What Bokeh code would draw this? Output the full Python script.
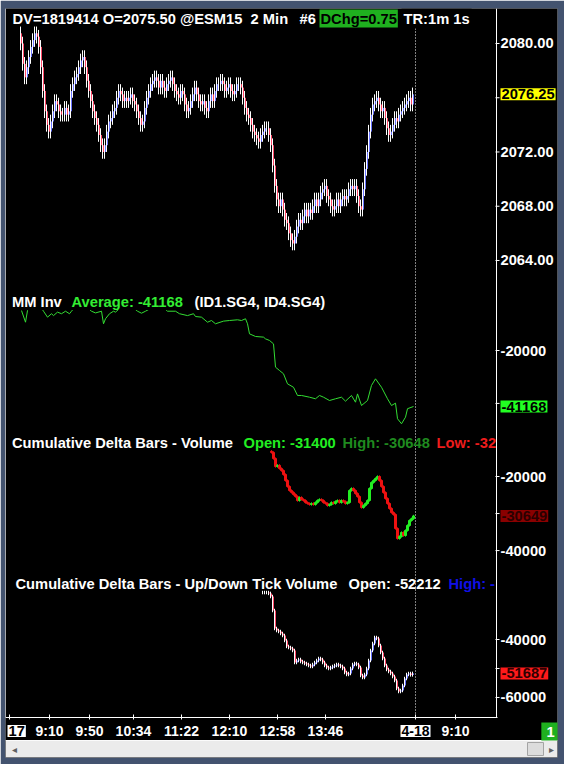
from bokeh.plotting import figure
from bokeh.models import Range1d, Label
from bokeh.embed import file_html
from bokeh.resources import INLINE
from bokeh.core.properties import value

FONT = "Liberation Sans"
FS = "14.7px"
XFS = "14px"

# ---------------- data ----------------
session_open = "8:30"
bars_per_session = 203            # 2-minute bars per day session
time_ticks = ["9:10", "9:50", "10:34", "11:22", "12:10", "12:58", "13:46"]
next_session_ticks = ["9:10"]
date_marks = ["17", "4-18"]

header_main = "DV=1819414 O=2075.50 @ESM15\u00a0 2 Min"
header_count = "#6"
header_dchg = "DChg=0.75"
header_tr = "TR:1m 1s"

price_first_bar = 6
price_first_open = 2080.75
price_close = [
    2080.0, 2078.5, 2077.5, 2078.25, 2079, 2079.75, 2080.25, 2080.75, 2080.5, 2079.75,
    2078.25, 2076.5, 2075, 2074, 2073.5, 2074.25, 2075, 2075.75, 2075.5, 2075,
    2074.75, 2074.75, 2075.25, 2074.75, 2075, 2076.5, 2077, 2077.5, 2077.75, 2078.25,
    2078.75, 2079, 2078.25, 2077.25, 2076.5, 2075.75, 2075, 2074.5, 2074, 2073.25,
    2072.5, 2072, 2072.5, 2073.5, 2074.25, 2074.5, 2075, 2075.25, 2076, 2076.5,
    2076.25, 2075.75, 2076, 2075.75, 2076, 2076.25, 2075.75, 2075.5, 2075, 2074.5,
    2074, 2074.25, 2075.25, 2076, 2076.5, 2077, 2077.25, 2077.5, 2077.25, 2076.75,
    2077.25, 2076.75, 2076.5, 2077, 2077.25, 2077.5, 2077, 2076.5, 2076.25, 2076,
    2076.5, 2076.25, 2075.5, 2075, 2075.25, 2075.75, 2076.25, 2076.75, 2076.25, 2075.75,
    2075.5, 2075.75, 2075.25, 2075, 2075.75, 2076.25, 2075.75, 2076.5, 2077, 2077,
    2077.25, 2077, 2076.5, 2076.75, 2077, 2076.5, 2076.25, 2076.5, 2077, 2077,
    2076.75, 2076, 2075.25, 2074.75, 2074.5, 2074, 2073.5, 2073.25, 2073, 2072.75,
    2073.25, 2073.5, 2073.75, 2073.75, 2073.25, 2072.5, 2071, 2069.5, 2068.5, 2068,
    2068.5, 2067.75, 2067, 2066.75, 2066, 2065.5, 2065.25, 2065.75, 2066.5, 2067,
    2066.75, 2067.25, 2067.75, 2067.25, 2067.75, 2067.5, 2068, 2068.5, 2068, 2068.5,
    2069, 2069.25, 2069.5, 2068.75, 2068.5, 2068, 2067.75, 2068, 2068.5, 2068,
    2068.5, 2068.75, 2068.5, 2068.75, 2069.25, 2069.5, 2069.25, 2069.5, 2068.75, 2068,
    2067.75, 2069.25, 2070.75, 2072, 2073.5, 2074.75, 2075.5, 2075.75, 2076, 2075.5,
    2075, 2075.25, 2074.5, 2073.75, 2073.25, 2073.5, 2074, 2074.5, 2074.25, 2074.75,
    2075, 2075.25, 2075.5, 2075.75, 2076, 2075.5, 2076.25,
]
price_wick = 0.5
price_ticks = [2064, 2068, 2072, 2076, 2080]
price_tick_labels = [2064, 2068, 2072, 2080]

mm_title = "MM Inv"
mm_study = "(ID1.SG4, ID4.SG4)"
mm_average = -41168
mm_bars = [6, 8, 9, 12, 15, 17, 19, 21, 22, 24, 26, 28, 30, 31, 34, 38, 41, 43, 46, 47,
           48, 50, 52, 53, 57, 61, 64, 66, 68, 72, 76, 79, 83, 85, 89, 92, 93, 96, 99, 101,
           103, 107, 110, 114, 116, 118, 119, 120, 123, 127, 128, 130, 132, 133, 135, 137,
           139, 142, 144, 146, 150, 153, 155, 157, 160, 163, 166, 168, 171, 173, 174, 176,
           179, 181, 183, 186, 189, 191, 193, 194, 196, 198, 199, 202]
mm_vals = [-4900, -9300, -4900, -2000, -3000, -5150, -7400, -6100, -6800, -5500,
           -6100, -5150, -6100, -5150, -2500, -3200, -5150, -5800, -5150, -9900,
           -8000, -6100, -5150, -5500, -2800, -3300, -5150, -5900, -5150, -3500,
           -3000, -5150, -5150, -6100, -6800, -6100, -7150, -7400, -9300, -8660,
           -9900, -8900, -8660, -8400, -8660, -8000, -9900, -13700, -14700, -14950,
           -15600, -16200, -17500, -26300, -27560, -28800, -32600, -33900, -37000, -37000,
           -37650, -38250, -37000, -37650, -38900, -38250, -37650, -39150, -37000, -39540,
           -36400, -40800, -38900, -33200, -30700, -33900, -38250, -40800, -39900, -45800,
           -47700, -45200, -42000, -41168]
mm_ticks = [-40000, -20000]
mm_tick_labels = [-20000]

cdv_title = "Cumulative Delta Bars - Volume"
cdv_open_txt, cdv_high_txt, cdv_low_txt = "Open: -31400", "High: -30648", "Low: -32"
cdv_first_bar = 131
cdv_first_open = -13200
cdv_close = [
    -13500, -15150, -17300, -17000, -17850, -18400, -19460, -21080, -22700, -23780,
    -24300, -24860, -25400, -26480, -25670, -26200, -26480, -27020, -27290, -27560,
    -27290, -27560, -27020, -26480, -26200, -26480, -27020, -27290, -27830, -27560,
    -27020, -27290, -26750, -26480, -27020, -26480, -26750, -27290, -27020, -23780,
    -23240, -23780, -24590, -25400, -27020, -28370, -27830, -27290, -26480, -23240,
    -21620, -21080, -20540, -20000, -21080, -22700, -24320, -25940, -27290, -28640,
    -29720, -30260, -34040, -36740, -36200, -35120, -35930, -34580, -33230, -31880,
    -31400, -30649,
]
cdv_wick = 300
cdv_ticks = [-40000, -30000, -20000]
cdv_tick_labels = [-40000, -20000]

tdv_title = "Cumulative Delta Bars - Up/Down Tick Volume"
tdv_open_txt, tdv_high_txt = "Open: -52212", "High: -"
tdv_first_bar = 127
tdv_close = [
    -23800, -23800, -23800, -24100, -25170, -30000, -36200, -36900, -37240, -37930,
    -38620, -40345, -42400, -42760, -43100, -43800, -47940, -47250, -46900, -47600,
    -47940, -48280, -48620, -48970, -49300, -48620, -47940, -47250, -46560, -46900,
    -47940, -48970, -49660, -50000, -49660, -49300, -48970, -48620, -48970, -49300,
    -50000, -51390, -52070, -51730, -50000, -48620, -48280, -48620, -49660, -52420,
    -53110, -52070, -50000, -47250, -43800, -41380, -39310, -39650, -42070, -44490,
    -46560, -48970, -50350, -51040, -51730, -52770, -54150, -56900, -57940, -57600,
    -55870, -53460, -52070, -51730, -52212, -51687,
]
tdv_wick = 600
tdv_ticks = [-60000, -50000, -40000]
tdv_tick_labels = [-60000, -40000]

# ---------------- figure (one frame, one y-range per pane) ----------------
FRAME_C = "#43536f"
UP_C, DN_C = "#6a74ff", "#ff4868"

p = figure(width=564, height=764, x_range=Range1d(-2, 274),
           y_range=Range1d(2027.35, 2082.58),
           output_backend="svg", toolbar_location=None, tools="", title=None,
           x_axis_location=None, y_axis_location=None,
           min_border_left=5, min_border_right=7, min_border_top=8, min_border_bottom=7,
           background_fill_color="black", border_fill_color=FRAME_C,
           outline_line_color=None)
p.grid.visible = False
p.extra_x_ranges = {"px": Range1d(5, 557)}
p.extra_y_ranges = {
    "px": Range1d(757, 8),
    "mm": Range1d(-173846, 109276),
    "cdv": Range1d(-95870, 106360),
    "tdv": Range1d(-80710, 177695),
}


def bar_of(t, session=0):
    h, m = (int(s) for s in t.split(":"))
    h0, m0 = (int(s) for s in session_open.split(":"))
    return session * bars_per_session + ((h * 60 + m) - (h0 * 60 + m0)) // 2


def ohlc(first_bar, first_open, closes, wick):
    xs = list(range(first_bar, first_bar + len(closes)))
    opens = [first_open] + closes[:-1]
    top = [max(o, c) for o, c in zip(opens, closes)]
    bot = [min(o, c) for o, c in zip(opens, closes)]
    return dict(
        x=xs, xw=[x - 0.5 for x in xs], xb=list(xs),
        top=top, bot=bot,
        hi=[t + wick for t in top], lo=[b - wick for b in bot],
        up=[c >= o for o, c in zip(opens, closes)],
    )


def lab(text, x, y, color="white", bg=None, xr="px", yr="px", align="left",
        size=FS, pad=0):
    kw = {}
    if bg is not None:
        kw.update(background_fill_color=bg, background_fill_alpha=1.0)
    p.add_layout(Label(x=x, y=y, x_range_name=xr, y_range_name=yr, text=text,
                       text_color=color, text_font=FONT, text_font_size=size,
                       text_font_style="bold", text_align=align, text_baseline="middle",
                       padding=pad, **kw))


def txt(xs, ys, texts, xr="px", yr="px", color="white", size=FS, align="left",
        font=FONT, style="bold"):
    p.text(x=xs, y=ys, text=texts, x_range_name=xr, y_range_name=yr,
           text_color=color, text_font=value(font), text_font_size=value(size),
           text_font_style=style, text_align=align, text_baseline="middle")


def y_axis(rn, ticks, labelled, fmt):
    p.segment(x0=[495] * len(ticks), x1=[499] * len(ticks), y0=ticks, y1=ticks,
              x_range_name="px", y_range_name=rn, line_color="white", line_width=1)
    txt([500] * len(labelled), labelled, [fmt(t) for t in labelled], yr=rn)


def bar_glyphs(d, rn, up_c, dn_c):
    cols = [up_c if u else dn_c for u in d["up"]]
    p.segment(x0=d["xw"], y0=d["lo"], x1=d["xw"], y1=d["hi"], y_range_name=rn,
              line_color="white", line_width=1)
    p.segment(x0=d["xb"], y0=d["bot"], x1=d["xb"], y1=d["top"], y_range_name=rn,
              line_color=cols, line_width=1)


# chrome: borders, axis lines, session marker
p.segment(x0=[5, 496, 5], x1=[5, 496, 497], y0=[8, 8, 717], y1=[717, 717, 717],
          x_range_name="px", y_range_name="px", line_color="white", line_width=1)
p.segment(x0=[bars_per_session], x1=[bars_per_session], y0=[25], y1=[717],
          y_range_name="px", line_color="white", line_width=1, line_dash="1 2")

# ---- pane 1: price ----
d1 = ohlc(price_first_bar, price_first_open, price_close, price_wick)
bar_glyphs(d1, "default", UP_C, DN_C)
y_axis("default", price_ticks, price_tick_labels, lambda t: f"{t:.2f}")
lab(header_main, 12, 18)
lab(header_count, 299, 18)
lab(header_dchg, 319, 18, color="black", bg="#1fb01f", pad=1)
lab(header_tr, 401, 18, bg="black", pad=2)
lab(f"{price_close[-1]:.2f}", 500, price_close[-1], color="black", bg="#ffff00",
    yr="default", pad=1)

# ---- pane 2: MM Inv ----
p.line(mm_bars, mm_vals, y_range_name="mm", line_color="#33dd33", line_width=1)
y_axis("mm", mm_ticks, mm_tick_labels, lambda t: f"{t:d}")
lab(mm_title, 11.5, 301.5, bg="black")
lab(f"Average: {mm_average}", 71, 301.5, color="#33ee33", bg="black")
lab(mm_study, 194, 301.5, bg="black")
lab(f"{mm_average}", 500, mm_average, color="black", bg="#22ff22", yr="mm", pad=1)

# ---- pane 3: cumulative delta volume ----
d3 = ohlc(cdv_first_bar, cdv_first_open, cdv_close, cdv_wick)
c3 = ["#22ee22" if u else "#ee1111" for u in d3["up"]]
p.segment(x0=d3["x"], y0=d3["lo"], x1=d3["x"], y1=d3["hi"], y_range_name="cdv",
          line_color=c3, line_width=1)
p.vbar(x=d3["x"], width=1.0, top=d3["top"], bottom=d3["bot"], y_range_name="cdv",
       fill_color=c3, line_color=c3, line_width=1)
y_axis("cdv", cdv_ticks, cdv_tick_labels, lambda t: f"{t:d}")
lab(cdv_title, 11.5, 442)
lab(cdv_open_txt, 243, 442, color="#22ee22")
lab(cdv_high_txt, 342, 442, color="#1f8a1f")
lab(cdv_low_txt, 436, 442, color="#ee1c1c")
lab(f"{cdv_close[-1]}", 500, cdv_close[-1], color="#2a0000", bg="#8a0000", yr="cdv", pad=1)

# ---- pane 4: up/down tick volume ----
d4 = ohlc(tdv_first_bar, tdv_close[0], tdv_close, tdv_wick)
bar_glyphs(d4, "tdv", UP_C, DN_C)
y_axis("tdv", tdv_ticks, tdv_tick_labels, lambda t: f"{t:d}")
lab(tdv_title, 15, 583)
lab(tdv_open_txt, 348, 583)
lab(tdv_high_txt, 448, 583, color="#1010e8")
lab(f"{tdv_close[-1]}", 500, tdv_close[-1], color="#300000", bg="#ff1a1a", yr="tdv", pad=1)

# ---- time axis ----
x_ticks = [bar_of(t) for t in time_ticks] + [bar_of(t, 1) for t in next_session_ticks]
x_labels = time_ticks + next_session_ticks
all_x_ticks = [0, bars_per_session] + x_ticks
p.segment(x0=all_x_ticks, x1=all_x_ticks,
          y0=[714] * len(all_x_ticks), y1=[719] * len(all_x_ticks),
          y_range_name="px", line_color="white", line_width=1)
txt(x_ticks, [730] * len(x_ticks), x_labels, xr="default", size=XFS, align="center")
lab(date_marks[0], 7, 730.5, color="black", bg="white", size=FS, pad=1)
lab(date_marks[1], bars_per_session, 730.5, color="black", bg="white", xr="default",
    align="center", size=XFS, pad=1)
lab("\u00a01\u00a0", 550, 731, color="white", bg="#1fb01f", align="center", pad=1)

# ---- scrollbar strip ----
p.quad(left=[5], right=[557], bottom=[757], top=[740], x_range_name="px", y_range_name="px",
       fill_color="#ebebeb", line_color=None)
p.segment(x0=[5], x1=[557], y0=[740], y1=[740], x_range_name="px", y_range_name="px",
          line_color="#fbfbfb", line_width=1)
p.quad(left=[527], right=[543], bottom=[755], top=[742], x_range_name="px", y_range_name="px",
       fill_color="#dcdcdc", line_color="#a4a4a4", line_width=1)
txt([14], [748.5], ["\u25c2"], color="#606060", size="10px", align="center",
    font="DejaVu Sans", style="normal")
txt([551], [748.5], ["\u25b8"], color="#606060", size="10px", align="center",
    font="DejaVu Sans", style="normal")

open("out.html", "w").write(file_html(p, INLINE))
